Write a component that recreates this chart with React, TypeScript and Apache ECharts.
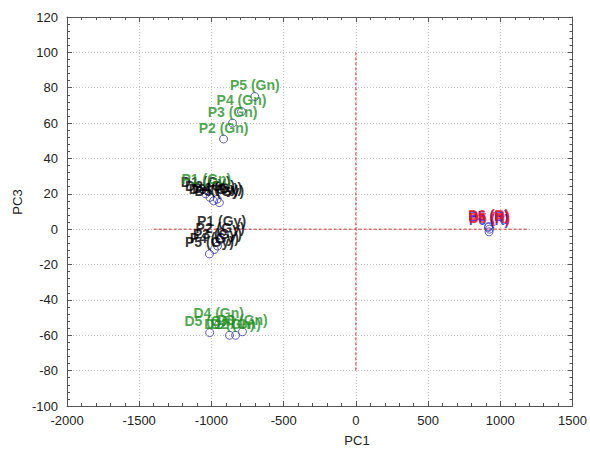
import React, { useEffect, useRef } from "react";
import * as echarts from "echarts";

// Green (Gn) samples
const gnNames = ["P1 (Gn)", "P2 (Gn)", "P3 (Gn)", "P4 (Gn)", "P5 (Gn)", "D5 (Gn)", "D4 (Gn)", "D1 (Gn)", "D2 (Gn)", "D3 (Gn)"];
const gnX = [-1035, -916, -854, -792, -700, -1012, -950, -875, -833, -785];
const gnY = [22, 51, 60, 66.5, 75, -58.5, -54, -60, -60, -58];

// Grey (Gy) samples
const gyNames = ["D1 (Gy)", "D2 (Gy)", "D3 (Gy)", "D4 (Gy)", "D5 (Gy)", "P1 (Gy)", "P2 (Gy)", "P3 (Gy)", "P4 (Gy)", "P5 (Gy)"];
const gyX = [-1040, -1010, -985, -960, -945, -930, -940, -958, -980, -1014];
const gyY = [20, 18, 16, 17, 15, -2, -6, -9.5, -11.5, -14];

// R samples (blue and red labels)
const bNames = ["P6 (R)", "P5 (R)"];
const bX = [922, 918];
const bY = [-1.5, 1];
const rNames = ["D5 (R)", "D6 (R)"];
const rX = [925, 920];
const rY = [0, 1.5];

// Reference lines
const hLineX = [-1400, 1200];
const hLineY = [0, 0];
const vLineX = [0, 0];
const vLineY = [100, -80];

const xTicks = { min: -2000, max: 1500, interval: 500 };
const yTicks = { min: -100, max: 120, interval: 20 };

const circleStroke = "#3535b0";

function mk(names: string[], xs: number[], ys: number[]) {
  return names.map((n, i) => ({ name: n, value: [xs[i], ys[i]] }));
}

function scatter(names: string[], xs: number[], ys: number[], color: string) {
  return {
    type: "scatter",
    data: mk(names, xs, ys),
    symbol: "circle",
    symbolSize: 8,
    itemStyle: { color: "rgba(255,255,255,0)", borderColor: circleStroke, borderWidth: 1 },
    label: {
      show: true,
      position: "top",
      distance: 0,
      formatter: "{b}",
      color,
      fontWeight: "bold",
      fontSize: 14,
      fontFamily: "Liberation Sans, Arial, sans-serif",
    },
    labelLayout: { hideOverlap: false },
    z: 3,
  };
}

function refLine(xs: number[], ys: number[]) {
  return {
    type: "line",
    data: xs.map((x, i) => [x, ys[i]]),
    symbol: "none",
    silent: true,
    z: 1,
    lineStyle: { color: "#d03030", type: [3, 2], width: 1 },
  };
}

export default function App() {
  const ref = useRef<HTMLDivElement>(null);
  useEffect(() => {
    const chart = echarts.init(ref.current!, null, { renderer: "svg" });
    const font = "Liberation Sans, Arial, sans-serif";
    const tickStyle = { color: "#555" };
    const fmt = (v: number) => String(v);
    const option: any = {
      animation: false,
      backgroundColor: "#fff",
      grid: { left: 67, right: 15, top: 17, bottom: 43 },
      xAxis: [
        {
          type: "value",
          ...xTicks,
          position: "bottom",
          axisLine: { show: true, onZero: false, lineStyle: { color: "#555" } },
          axisTick: { show: true, inside: true, length: 5, lineStyle: tickStyle },
          minorTick: { show: true, splitNumber: 5, length: 3, lineStyle: tickStyle },
          axisLabel: { color: "#222", fontSize: 13, margin: 8, fontFamily: font, formatter: fmt },
          splitLine: { show: true, lineStyle: { color: "#c4c4c4", type: [1, 2] } },
        },
        {
          type: "value",
          ...xTicks,
          position: "top",
          axisLine: { show: true, onZero: false, lineStyle: { color: "#555" } },
          axisTick: { show: true, inside: true, length: 5, lineStyle: tickStyle },
          minorTick: { show: true, splitNumber: 5, length: 3, lineStyle: tickStyle },
          axisLabel: { show: false },
          splitLine: { show: false },
        },
      ],
      yAxis: [
        {
          type: "value",
          ...yTicks,
          position: "left",
          axisLine: { show: true, onZero: false, lineStyle: { color: "#555" } },
          axisTick: { show: true, inside: true, length: 5, lineStyle: tickStyle },
          minorTick: { show: true, splitNumber: 5, length: 3, lineStyle: tickStyle },
          axisLabel: { color: "#222", fontSize: 13, margin: 9, fontFamily: font, formatter: fmt },
          splitLine: { show: true, lineStyle: { color: "#c4c4c4", type: [1, 2] } },
        },
        {
          type: "value",
          ...yTicks,
          position: "right",
          axisLine: { show: true, onZero: false, lineStyle: { color: "#555" } },
          axisTick: { show: true, inside: true, length: 5, lineStyle: tickStyle },
          minorTick: { show: true, splitNumber: 5, length: 3, lineStyle: tickStyle },
          axisLabel: { show: false },
          splitLine: { show: false },
        },
      ],
      graphic: [
        {
          type: "text",
          x: 357,
          y: 440,
          style: { text: "PC1", fill: "#222", font: `13px ${font}`, align: "center", verticalAlign: "middle" },
        },
        {
          type: "text",
          x: 17,
          y: 202,
          rotation: Math.PI / 2,
          style: { text: "PC3", fill: "#222", font: `13px ${font}`, align: "center", verticalAlign: "middle" },
        },
      ],
      series: [
        refLine(hLineX, hLineY),
        refLine(vLineX, vLineY),
        scatter(gyNames, gyX, gyY, "#000000"),
        scatter(gnNames, gnX, gnY, "#1f8f1f"),
        scatter(bNames, bX, bY, "#1a1ad8"),
        scatter(rNames, rX, rY, "#ee1020"),
      ],
    };
    chart.setOption(option);
    return () => chart.dispose();
  }, []);
  return (
    <div
      ref={ref}
      style={{ position: "fixed", left: 0, top: 0, width: 590, height: 449, overflow: "hidden" }}
    />
  );
}
